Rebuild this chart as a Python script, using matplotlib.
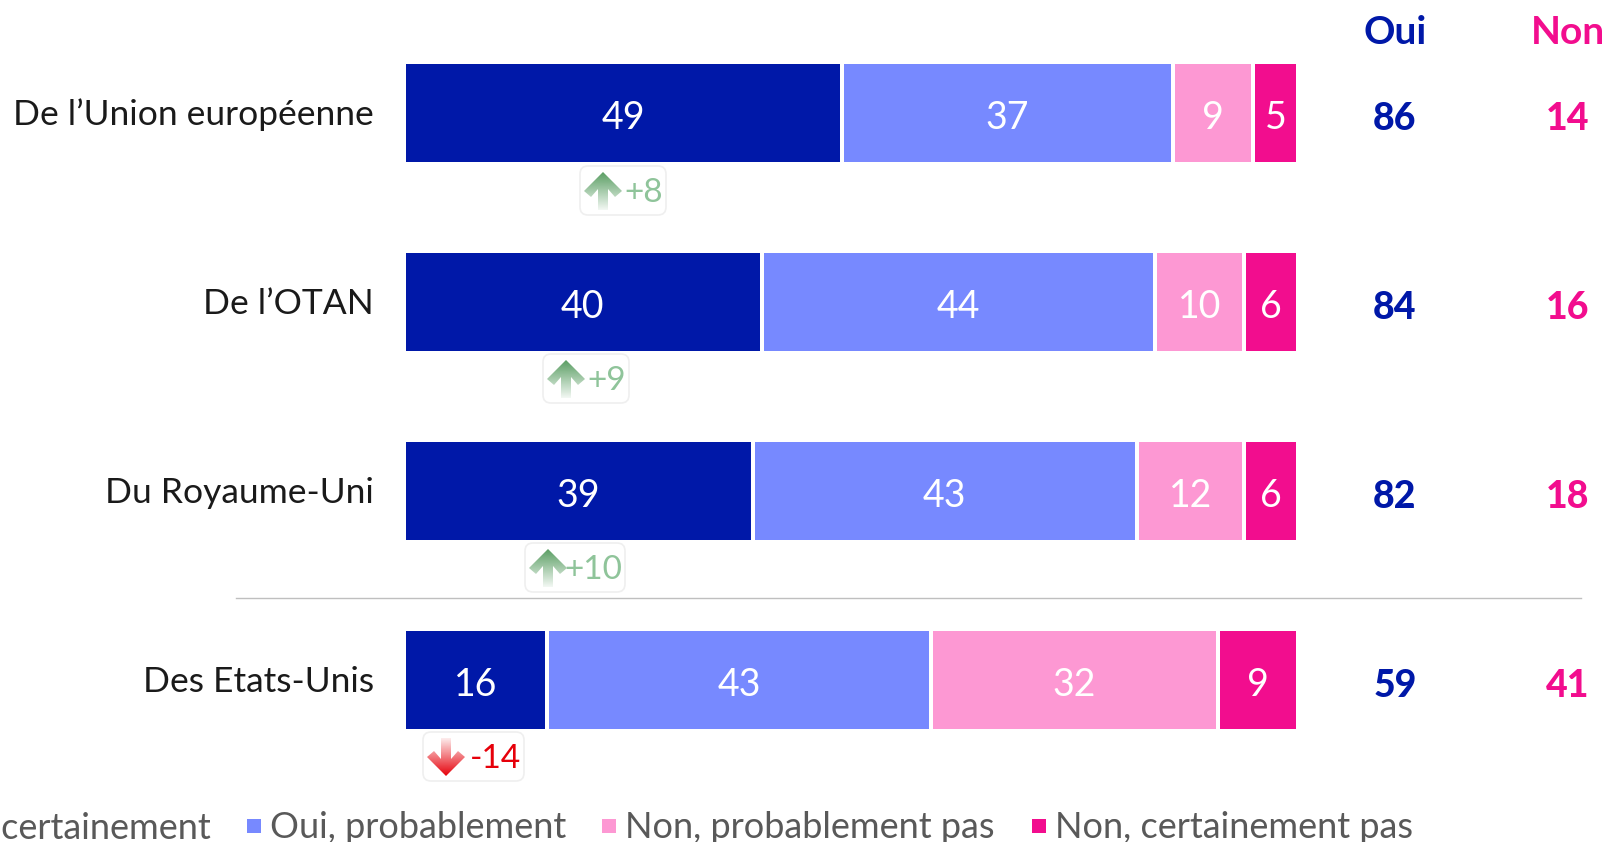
#!/usr/bin/env python3
# -*- coding: utf-8 -*-
import numpy as np
import matplotlib
matplotlib.use('Agg')
import matplotlib.pyplot as plt
from matplotlib.patches import FancyBboxPatch, Polygon, Rectangle

plt.rcParams['font.family'] = ['Lato', 'DejaVu Sans']

W, H = 1609, 842

categories = ["De l’Union européenne", "De l’OTAN", "Du Royaume-Uni", "Des Etats-Unis"]
oui_cert = [49, 40, 39, 16]
oui_prob = [37, 44, 43, 43]
non_prob = [9, 10, 12, 32]
non_cert = [5, 6, 6, 9]
total_oui = [86, 84, 82, 59]
total_non = [14, 16, 18, 41]
deltas = ['+8', '+9', '+10', '-14']

series = [oui_cert, oui_prob, non_prob, non_cert]
colors = ['#0018A8', '#7789FF', '#FD98D3', '#F20D8E']
legend_labels = ['Oui, certainement', 'Oui, probablement', 'Non, probablement pas', 'Non, certainement pas']

fig = plt.figure(figsize=(W / 100, H / 100), dpi=100)

# bars: 100 % spans the axes, rows are 189 px apart
ax = fig.add_axes([404 / W, 1 - 729 / H - 2 / H, 894 / W, (729 - 64 + 4) / H])
ax.set_xlim(0, 100)
bar_h = 102 / 189
ax.set_ylim(3 + bar_h / 2, -bar_h / 2)
ax.axis('off')

ypos = np.arange(len(categories))
left = np.zeros(len(categories))
for vals, col in zip(series, colors):
    ax.barh(ypos, vals, left=left, height=bar_h, color=col, edgecolor='white', linewidth=2.88)
    for y, l, v in zip(ypos, left, vals):
        ax.text(l + v / 2, y + 0.025, str(v), color='white', fontsize=27,
                ha='center', va='center')
    left = left + np.array(vals)

# everything else is placed in pixels of the picture
ov = fig.add_axes([0, 0, 1, 1], zorder=3)
ov.set_xlim(0, W)
ov.set_ylim(H, 0)
ov.axis('off')
ov.patch.set_alpha(0)

row_y = [113, 302, 491, 680]
for name, y, o, n in zip(categories, row_y, total_oui, total_non):
    ov.text(374, y + 2, name, ha='right', va='center', fontsize=25.5, color='#1a1a1a')
    ov.text(1395, y + 6, str(o), ha='center', va='center', fontsize=27, color=colors[0], weight='black')
    ov.text(1568, y + 6, str(n), ha='center', va='center', fontsize=27, color=colors[3], weight='black')

ov.text(1395, 32, 'Oui', ha='center', va='center', fontsize=28, color=colors[0], weight='bold')
ov.text(1568, 32, 'Non', ha='center', va='center', fontsize=28, color=colors[3], weight='bold')

ov.plot([236, 1581], [598, 598], color='#BFBFBF', lw=1)


def gradient_arrow(cx, top, color, up=True):
    # arrow with a chevron head, fading out towards the tail
    s = 1 if up else -1
    tip = top if up else top + 38
    pts = [(0, 0), (19, 19), (12, 25), (5, 17), (5, 38), (-5, 38), (-5, 17), (-12, 25), (-19, 19)]
    poly = Polygon([(cx + px, tip + s * py) for px, py in pts], closed=True, transform=ov.transData,
                   fc='none', ec='none')
    ov.add_patch(poly)
    rgb = matplotlib.colors.to_rgb(color)
    alpha = np.linspace(1, 0.08, 64)[:, None]
    img = np.dstack([np.full_like(alpha, c) for c in rgb] + [alpha])
    if up:
        extent = (cx - 20, cx + 20, tip + 38, tip)
    else:
        img = img[::-1]
        extent = (cx - 20, cx + 20, tip, tip - 38)
    im = ov.imshow(img, extent=extent, aspect='auto', zorder=5, interpolation='bilinear')
    im.set_clip_path(poly)


badge_left = [580, 543, 525, 423]
badge_right = [666, 629, 625, 524]
badge_top = [166, 354, 543, 732]
badge_h = 49
for d, x0, x1, y0 in zip(deltas, badge_left, badge_right, badge_top):
    ov.add_patch(FancyBboxPatch((x0 + 7, y0 + 7), x1 - x0 - 14, badge_h - 14,
                                boxstyle='round,pad=7,rounding_size=8', fc='white', ec='#EFEFEF', lw=1.2, zorder=4))
    up = d.startswith('+')
    col = '#5A9E63' if up else '#E6000A'
    gradient_arrow(x0 + 23, y0 + 6, col, up)
    ov.text(x1 - 3, y0 + 27, d, ha='right', va='center', fontsize=24,
            color='#8FC49A' if up else '#E6000A', zorder=6)
ov.set_xlim(0, W)
ov.set_ylim(H, 0)

# legend runs off the left edge of the slide
legend_text_x = [-74, 270, 625, 1055]
legend_box_x = [None, 247, 602, 1032]
for lab, tx, bx, col in zip(legend_labels, legend_text_x, legend_box_x, colors):
    if bx is not None:
        ov.add_patch(Rectangle((bx, 819), 14, 14, fc=col, ec='none'))
    ov.text(tx, 828, lab, ha='left', va='center', fontsize=26, color='#595959')

fig.savefig('out.png', dpi=100)
